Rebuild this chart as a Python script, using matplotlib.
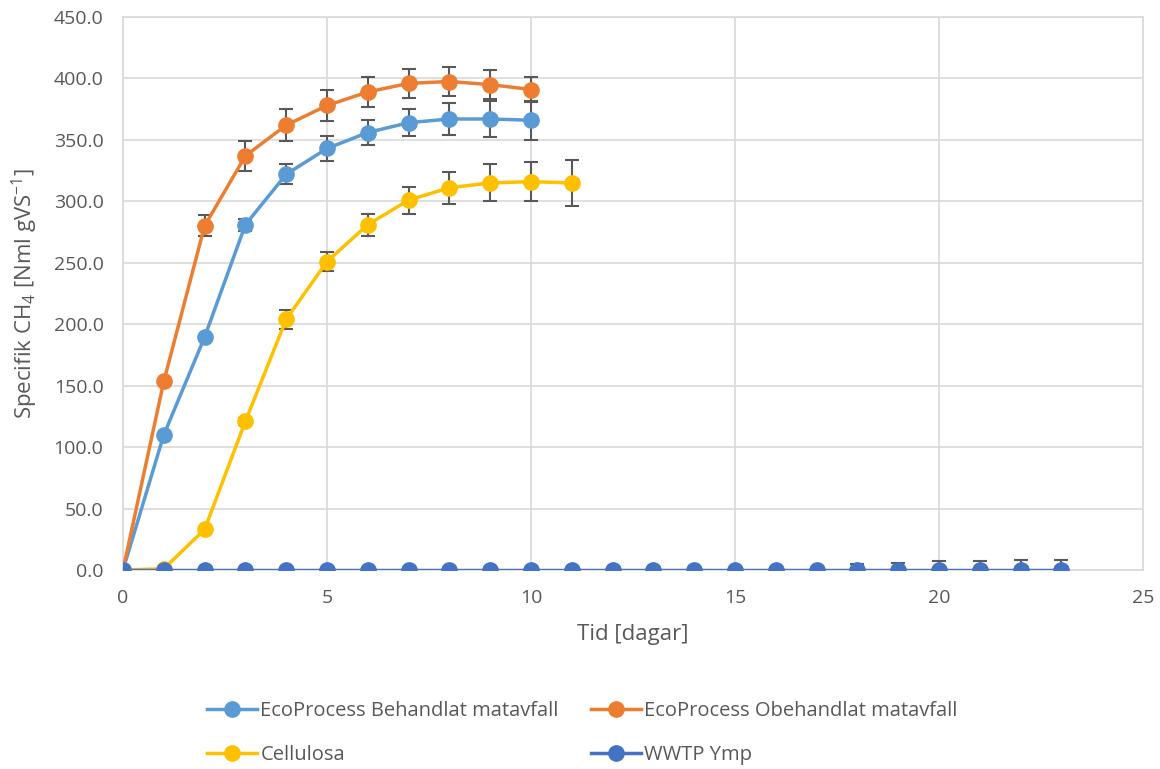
import matplotlib
matplotlib.use("Agg")
import matplotlib.pyplot as plt
import numpy as np

plt.rcParams['font.family'] = ['Open Sans', 'DejaVu Sans']
plt.rcParams['mathtext.fontset'] = 'custom'
plt.rcParams['mathtext.rm'] = 'Open Sans'
plt.rcParams['mathtext.it'] = 'Open Sans'

# Data
days_behandlat = [0, 1, 2, 3, 4, 5, 6, 7, 8, 9, 10]
behandlat = [0, 110, 189.5, 281, 322, 343, 356, 364, 367, 367, 366]
behandlat_err = [0, 0, 0, 5, 8, 10, 10, 11, 13, 15, 16]

days_obehandlat = [0, 1, 2, 3, 4, 5, 6, 7, 8, 9, 10]
obehandlat = [0, 153.5, 280, 337, 362, 378, 389, 396, 397.5, 395, 391]
obehandlat_err = [0, 0, 8.5, 12, 13, 13, 12.5, 12, 12, 12, 10]

days_cellulosa = [0, 1, 2, 3, 4, 5, 6, 7, 8, 9, 10, 11]
cellulosa = [0, 1, 33, 121, 204, 251, 281, 301, 311, 315, 316, 315]
cellulosa_err = [0, 0, 0, 3, 7.5, 8, 9, 11, 13, 15, 16, 19]

days_wwtp = list(range(0, 24))
wwtp = [0] * 24
wwtp_err_up = [0]*18 + [5, 6, 7, 7.5, 8, 8.5]

labels = ["EcoProcess Behandlat matavfall", "EcoProcess Obehandlat matavfall",
          "Cellulosa", "WWTP Ymp"]
colors = ["#5B9BD5", "#ED7D31", "#FFC000", "#4472C4"]

fig = plt.figure(figsize=(11.6, 7.69), dpi=100)
ax = fig.add_axes([123/1160, 1 - 570/769, (1143-123)/1160, (570-17)/769])

err_color = "#595959"
ms = 11
lw = 2.5

series = [
    (days_behandlat, behandlat, [behandlat_err, behandlat_err]),
    (days_obehandlat, obehandlat, [obehandlat_err, obehandlat_err]),
    (days_cellulosa, cellulosa, [cellulosa_err, cellulosa_err]),
    (days_wwtp, wwtp, [[0]*24, wwtp_err_up]),
]
handles = []
for i, ((x, y, err), c, lab) in enumerate(zip(series, colors, labels)):
    ax.errorbar(x, y, yerr=err, fmt='none', ecolor=err_color, elinewidth=1.5,
                capsize=5, capthick=1.5, zorder=2 + i * 2)
    h, = ax.plot(x, y, color=c, lw=lw, marker='o', ms=ms, label=lab, zorder=3 + i * 2)
    handles.append(h)

ax.set_xlim(0, 25)
ax.set_ylim(0, 450)
ax.set_xticks(np.arange(0, 26, 5))
ax.set_yticks(np.arange(0, 451, 50))
ax.set_yticklabels([f"{v:.1f}" for v in np.arange(0, 451, 50)])
ax.grid(True, color="#D9D9D9", lw=1.2)
ax.set_axisbelow(True)
for s in ax.spines.values():
    s.set_color("#D9D9D9")
    s.set_linewidth(1.2)
ax.tick_params(axis='both', length=0, labelsize=14, colors="#595959")
ax.tick_params(axis='y', pad=14)
ax.tick_params(axis='x', pad=14)

ax.set_xlabel("Tid [dagar]", fontsize=16, color="#595959", labelpad=12)
ax.set_ylabel(r"Specifik CH$_4$ [Nml gVS$^{-1}$]", fontsize=16, color="#595959", labelpad=10)

order = [0, 2, 1, 3]
leg = fig.legend(handles=[handles[i] for i in order], labels=[labels[i] for i in order],
                 ncol=2, loc='center',
                 bbox_to_anchor=(0.502, 1 - 733/769), frameon=False, fontsize=14.5,
                 handlelength=2.5, columnspacing=1.6, labelspacing=1.2,
                 handletextpad=0.15)
for t in leg.get_texts():
    t.set_color("#595959")

fig.savefig("out.png", dpi=100)
